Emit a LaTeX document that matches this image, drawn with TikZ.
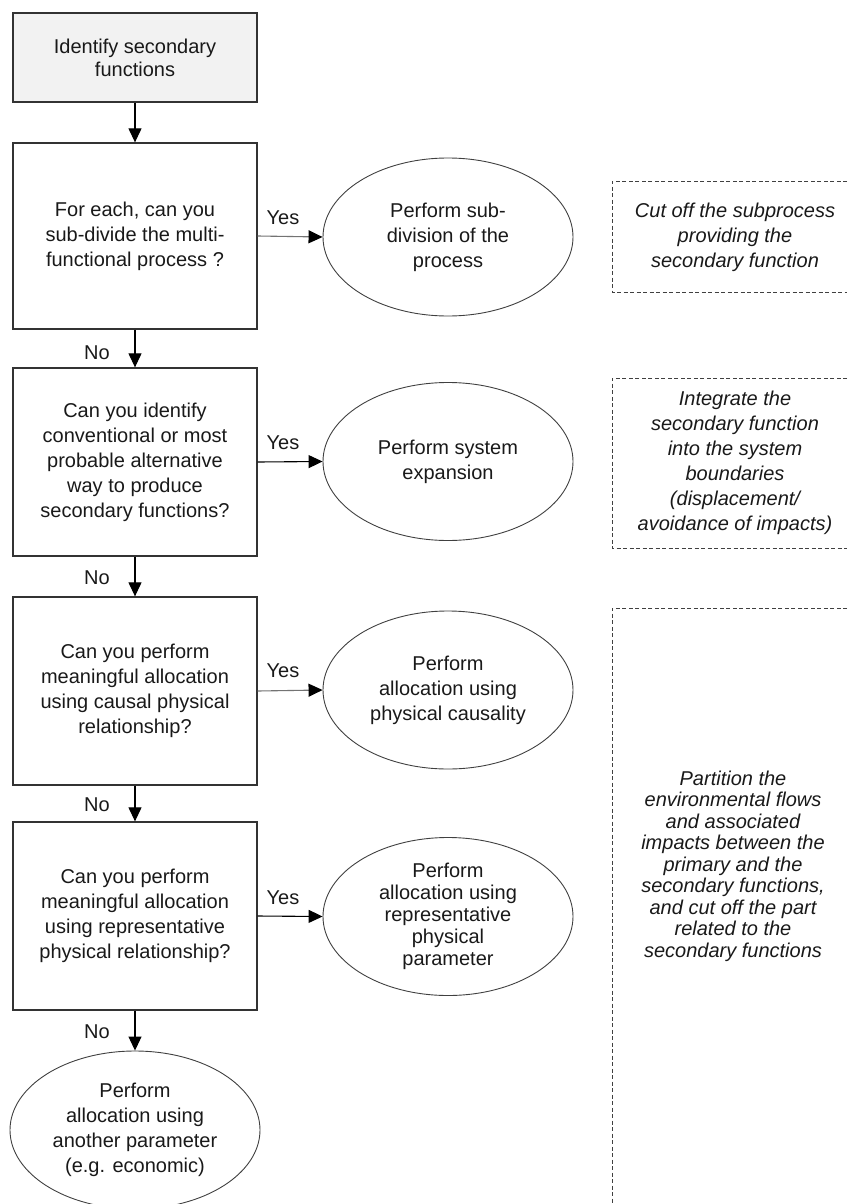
\documentclass[tikz,border=0pt]{standalone}
\usepackage{fontspec}
\setmainfont{Liberation Sans}
\usetikzlibrary{shapes.geometric,arrows.meta}
\begin{document}
\begin{tikzpicture}[x=1pt,y=-1pt,
  font=\fontsize{20}{25}\selectfont,
  box/.style={draw=black!80,line width=1.3pt,minimum width=244pt,minimum height=188pt,inner sep=0pt,align=center,text=black!90},
  oval/.style={draw=black!75,line width=0.9pt,ellipse,minimum width=250pt,minimum height=158pt,inner sep=0pt},
  txt/.style={align=center,inner sep=0pt,text=black!90},
  itxt/.style={txt,font=\fontsize{20}{25}\selectfont\itshape},
  arr/.style={draw=black,line width=1.1pt,-{Triangle[length=14pt,width=13pt,color=black]}},
  garr/.style={arr,draw=black!55},
  dsh/.style={draw=black!75,line width=1pt,dash pattern=on 4pt off 2.5pt},
  lbl/.style={inner sep=0pt,text=black!90}]
\useasboundingbox (0,0) rectangle (847,1204);

% decision column
\node[box,fill=black!5,minimum height=89pt,font=\fontsize{20}{23}\selectfont] (b1) at (135,57.5) {Identify secondary\\functions};
\node[box,minimum height=186pt] (b2) at (135,236) {For each, can you\\sub-divide the multi-\\functional process ?};
\node[box] (b3) at (135,462) {Can you identify\\conventional or most\\probable alternative\\way to produce\\secondary functions?};
\node[box] (b4) at (135,691) {Can you perform\\meaningful allocation\\using causal physical\\relationship?};
\node[box] (b5) at (135,916) {Can you perform\\meaningful allocation\\using representative\\physical relationship?};

% ellipses
\node[oval] (e1) at (448,237) {};
\node[txt] (t1) at (e1) {Perform sub-\\division of the\\process};
\node[oval] (e2) at (448,461.5) {};
\node[txt] (t2) at (e2) {Perform system\\expansion};
\node[oval] (e3) at (448,690) {};
\node[txt] (t3) at (e3) {Perform\\allocation using\\physical causality};
\node[oval] (e4) at (448,916.5) {};
\node[txt,font=\fontsize{20}{22}\selectfont] (t4) at (e4) {Perform\\allocation using\\representative\\physical\\parameter};
\node[oval] (e5) at (135,1130) {};
\node[txt] (t5) at (e5) {Perform\\allocation using\\another parameter\\(e.g. economic)};

% connectors
\draw[arr] (b1) -- (b2);
\draw[arr] (b2) -- (b3);
\draw[arr] (b3) -- (b4);
\draw[arr] (b4) -- (b5);
\draw[arr] (b5) -- (e5);
\draw[garr] (b2.east) -- (e1.west);
\draw[arr] (b3.east) -- (e2.west);
\draw[garr] (b4.east) -- (e3.west);
\draw[arr] (b5.east) -- (e4.west);

% labels
\node[lbl] (y1) at (283,218) {Yes};
\node[lbl] (y2) at (283,443) {Yes};
\node[lbl] (y3) at (283,671) {Yes};
\node[lbl] (y4) at (283,898) {Yes};
\node[lbl] (n1) at (97,353) {No};
\node[lbl] (n2) at (97,578) {No};
\node[lbl] (n3) at (97,805) {No};
\node[lbl] (n4) at (97,1032) {No};

% dashed boxes (cut by the right edge)
\draw[dsh] (847,181) -| (612,292) -- (847,292);
\node[itxt] (d1) at (735,237) {Cut off the subprocess\\providing the\\secondary function};
\draw[dsh] (847,378) -| (612,548) -- (847,548);
\node[itxt] (d2) at (735,463) {Integrate the\\secondary function\\into the system\\boundaries\\(displacement/\\avoidance of impacts)};
\draw[dsh] (847,608) -| (612,1210);
\node[itxt,font=\fontsize{20}{21.5}\selectfont\itshape] (d3) at (733,866) {Partition the\\environmental flows\\and associated\\impacts between the\\primary and the\\secondary functions,\\and cut off the part\\related to the\\secondary functions};
\end{tikzpicture}
\end{document}
